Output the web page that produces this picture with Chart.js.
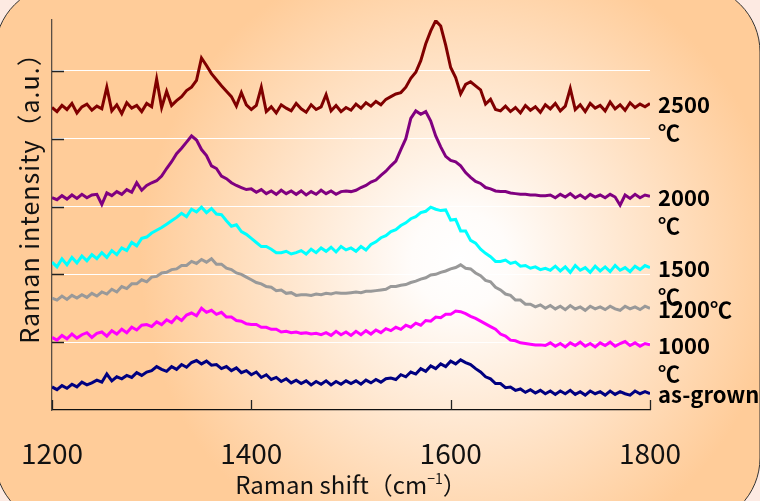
<!DOCTYPE html>
<html>
<head>
<meta charset="utf-8">
<script src="https://cdn.jsdelivr.net/npm/chart.js@4.4.1/dist/chart.umd.min.js"></script>
<style>
  html, body { margin: 0; padding: 0; background: #fdeae2; }
  #wrap { width: 760px; height: 501px; }
</style>
</head>
<body>
<div id="wrap"><canvas id="raman" width="760" height="501"></canvas></div>
<script>
// sampling grid of the spectra (Raman shift, cm-1)
const shiftStart = 1200, shiftStep = 5;
const shiftTicks = [1200, 1400, 1600, 1800];
const intensityTicks = [100, 200, 300, 400, 500];

// intensities (a.u., offset for stacking), one value every 5 cm-1 from 1200 to 1800
const asGrown = [
  34, 30, 36, 32, 38, 34, 41, 37, 40, 44,
  41, 53, 43, 49, 46, 51, 48, 55, 51, 56,
  58, 64, 60, 57, 64, 60, 67, 63, 70, 73,
  68, 72, 66, 67, 61, 64, 58, 62, 55, 58,
  52, 56, 48, 52, 45, 48, 42, 46, 40, 44,
  39, 43, 37, 42, 38, 43, 37, 42, 38, 43,
  39, 43, 38, 44, 40, 45, 41, 46, 47, 45,
  52, 49, 56, 53, 61, 57, 65, 61, 68, 64,
  72, 68, 74, 70, 67, 61, 56, 49, 46, 39,
  39, 33, 34, 29, 31, 26, 30, 25, 29, 24,
  28, 23, 28, 24, 29, 23, 27, 22, 28, 24,
  27, 22, 28, 23, 27, 24, 22, 28, 24, 27,
  24
];
const t1000 = [
  107, 103, 110, 105, 112, 106, 111, 114, 107, 113,
  115, 109, 117, 112, 119, 114, 122, 118, 125, 126,
  123, 130, 126, 133, 129, 137, 132, 140, 143, 139,
  150, 144, 147, 141, 144, 137, 137, 132, 131, 127,
  126, 126, 122, 122, 119, 119, 115, 116, 114, 115,
  113, 114, 112, 113, 111, 114, 110, 116, 111, 115,
  110, 116, 111, 117, 112, 118, 114, 120, 117, 122,
  119, 125, 122, 128, 125, 132, 131, 137, 136, 141,
  141, 146, 145, 142, 138, 135, 131, 127, 123, 119,
  112, 109, 103, 102, 99, 98, 97, 96, 96, 95,
  99, 94, 98, 93, 99, 95, 100, 94, 98, 93,
  99, 95, 100, 94, 98, 101, 95, 99, 94, 98,
  96
];
const t1200 = [
  165, 162, 168, 163, 169, 165, 170, 166, 172, 168,
  174, 171, 178, 174, 182, 179, 186, 186, 192, 189,
  196, 197, 202, 203, 207, 208, 213, 213, 219, 216,
  222, 218, 223, 215, 215, 209, 207, 202, 200, 196,
  192, 188, 186, 182, 181, 176, 177, 172, 173, 169,
  170, 170, 169, 171, 170, 172, 171, 173, 172, 172,
  173, 174, 173, 175, 175, 176, 177, 178, 182, 182,
  184, 185, 188, 190, 193, 195, 199, 200, 203, 205,
  208, 210, 214, 209, 208, 202, 198, 191, 189, 181,
  177, 171, 169, 162, 162, 156, 156, 152, 155, 150,
  154, 149, 153, 148, 154, 149, 152, 147, 153, 149,
  152, 148, 153, 149, 147, 153, 149, 152, 148, 153,
  150
];
const t1500 = [
  218, 211, 223, 214, 225, 217, 227, 220, 229, 223,
  232, 225, 235, 229, 239, 235, 247, 242, 253, 255,
  261, 265, 269, 274, 279, 284, 290, 285, 296, 292,
  299, 291, 297, 289, 288, 279, 271, 273, 263, 259,
  253, 247, 241, 241, 237, 232, 232, 234, 230, 232,
  235, 230, 237, 232, 239, 234, 240, 233, 241, 236,
  239, 234, 241, 236, 244, 248, 254, 257, 263, 266,
  272, 276, 282, 285, 291, 293, 299, 296, 294, 295,
  280, 281, 264, 264, 250, 246, 237, 231, 226, 219,
  219, 221, 216, 218, 212, 213, 209, 211, 207, 209,
  206, 212, 205, 211, 203, 213, 206, 210, 203, 212,
  205, 211, 204, 213, 206, 210, 204, 212, 207, 213,
  210
];
const t2000 = [
  313, 310, 316, 311, 317, 312, 318, 313, 317, 318,
  303, 320, 316, 322, 318, 325, 321, 335, 324, 331,
  335, 338, 345, 356, 366, 378, 386, 395, 404, 398,
  384, 375, 360, 356, 345, 341, 335, 331, 328, 325,
  326, 321, 325, 319, 323, 318, 324, 319, 323, 318,
  323, 317, 322, 318, 324, 319, 323, 318, 322, 323,
  322, 324, 328, 331, 336, 339, 346, 352, 360, 367,
  384, 400, 430, 441, 436, 440, 426, 404, 388, 374,
  368, 366, 360, 350, 343, 337, 334, 328, 326, 323,
  322, 322, 320, 319, 318, 318, 317, 317, 316, 316,
  317, 313, 318, 314, 319, 313, 317, 312, 318, 314,
  317, 313, 318, 314, 302, 317, 312, 318, 313, 317,
  315
];
const t2500 = [
  446, 440, 449, 443, 452, 438, 447, 451, 442, 448,
  444, 476, 441, 450, 437, 453, 445, 449, 440, 452,
  447, 488, 446, 470, 449, 456, 462, 471, 476, 486,
  519, 508, 496, 487, 478, 470, 462, 448, 468, 450,
  443, 449, 476, 440, 447, 438, 450, 445, 441, 452,
  444, 439, 450, 443, 447, 465, 441, 449, 440, 446,
  442, 451, 445, 453, 448, 455, 450, 458, 462, 466,
  468, 476, 489, 498, 515, 540, 559, 574, 566, 538,
  505, 490, 466, 480, 484, 478, 472, 451, 458, 443,
  441, 448, 440, 446, 438, 449, 442, 447, 439, 450,
  444, 452, 441, 448, 474, 443, 450, 440, 452, 445,
  449, 441, 454, 444, 450, 442, 453, 446, 451, 447,
  452
];

const seriesValues = [asGrown, t1000, t1200, t1500, t2000, t2500];
const seriesColors = ['#000080', '#ff00ff', '#999999', '#00ffff', '#800080', '#800000'];
const seriesNames = ['as-grown', '1000℃', '1200℃', '1500℃', '2000℃', '2500℃'];
const endLabels = [['as-grown'], ['1000', '℃'], ['1200℃'], ['1500', '℃'], ['2000', '℃'], ['2500', '℃']];

const FONT = "'Noto Sans CJK JP', 'Noto Sans', sans-serif";
Chart.defaults.font.family = FONT;

// peach background with the rounded frame
const backdrop = {
  id: 'backdrop',
  beforeDraw(chart) {
    const ctx = chart.ctx;
    ctx.save();
    ctx.fillStyle = '#fdeae2';
    ctx.fillRect(0, 0, chart.width, chart.height);
    const g = ctx.createRadialGradient(460, 260, 0, 460, 260, 320);
    g.addColorStop(0, '#ffffff');
    g.addColorStop(0.15, '#fffcfa');
    g.addColorStop(1, '#ffcc99');
    ctx.beginPath();
    ctx.roundRect(-5, -15, 765, 540, 67);
    ctx.fillStyle = g;
    ctx.fill();
    ctx.lineWidth = 1;
    ctx.strokeStyle = '#333';
    ctx.stroke();
    ctx.restore();
  }
};

// short tick marks pointing into the plot
const innerTicks = {
  id: 'innerTicks',
  beforeDatasetsDraw(chart) {
    const { ctx, chartArea: a, scales: { x, y } } = chart;
    ctx.save();
    ctx.strokeStyle = '#222';
    ctx.lineWidth = 1.3;
    ctx.beginPath();
    intensityTicks.forEach(v => {
      const py = Math.round(y.getPixelForValue(v)) + 0.5;
      ctx.moveTo(a.left, py);
      ctx.lineTo(a.left + 12, py);
    });
    shiftTicks.forEach(v => {
      const px = Math.round(x.getPixelForValue(v)) + 0.5;
      ctx.moveTo(px, a.bottom);
      ctx.lineTo(px, a.bottom - 10);
    });
    ctx.stroke();
    ctx.restore();
  }
};

// axis titles and labels at the end of each spectrum
const texts = {
  id: 'texts',
  afterDraw(chart) {
    const { ctx, chartArea: a } = chart;
    ctx.save();
    ctx.fillStyle = '#111';

    // y title
    ctx.save();
    ctx.translate(29, 192);
    ctx.rotate(-Math.PI / 2);
    ctx.font = '25px ' + FONT;
    ctx.letterSpacing = '1px';
    ctx.textAlign = 'center';
    ctx.textBaseline = 'middle';
    ctx.fillText('Raman intensity（a.u.）', 0, 0);
    ctx.restore();

    // x title with superscript
    const main = 'Raman shift（cm', sup = '−1', close = '）';
    ctx.textBaseline = 'alphabetic';
    ctx.textAlign = 'left';
    ctx.font = '24px ' + FONT;
    const w1 = ctx.measureText(main).width, w3 = ctx.measureText(close).width;
    ctx.font = '14px ' + FONT;
    const w2 = ctx.measureText(sup).width;
    let sx = (a.left + a.right) / 2 - (w1 + w2 + w3) / 2;
    const by = 494;
    ctx.font = '24px ' + FONT;
    ctx.fillText(main, sx, by);
    ctx.font = '14px ' + FONT;
    ctx.fillText(sup, sx + w1, by - 10);
    ctx.font = '24px ' + FONT;
    ctx.fillText(close, sx + w1 + w2, by);

    // end labels
    ctx.fillStyle = '#000';
    ctx.font = 'bold 22px ' + FONT;
    ctx.textBaseline = 'middle';
    chart.data.datasets.forEach((ds, i) => {
      const pts = chart.getDatasetMeta(i).data;
      const last = pts[pts.length - 1];
      endLabels[i].forEach((t, k) => ctx.fillText(t, 658, last.y + 1 + k * 28));
    });
    ctx.restore();
  }
};

const datasets = seriesValues.map((vals, i) => ({
  label: seriesNames[i],
  data: vals.map((v, k) => ({ x: shiftStart + k * shiftStep, y: v })),
  borderColor: seriesColors[i],
  borderWidth: 3,
  pointRadius: 0,
  fill: false,
  tension: 0
}));

new Chart(document.getElementById('raman'), {
  type: 'line',
  data: { datasets: datasets },
  options: {
    responsive: false,
    animation: false,
    devicePixelRatio: 1,
    layout: { padding: { left: 0, right: 110, top: 20, bottom: 0 } },
    plugins: {
      legend: { display: false },
      tooltip: { enabled: false }
    },
    scales: {
      x: {
        type: 'linear',
        min: 1200,
        max: 1800,
        afterFit: s => { s.height = 91; s.paddingLeft = 0; s.paddingRight = 0; },
        afterBuildTicks: s => { s.ticks = shiftTicks.map(v => ({ value: v })); },
        ticks: {
          padding: 27,
          color: '#111',
          font: { size: 28 },
          maxRotation: 0,
          callback: v => String(v)
        },
        grid: { drawTicks: false, color: 'rgba(0,0,0,0)' },
        border: { color: '#111', width: 1.3 }
      },
      y: {
        type: 'linear',
        min: 0,
        max: 575,
        afterFit: s => { s.width = 52; },
        afterBuildTicks: s => { s.ticks = [0].concat(intensityTicks).map(v => ({ value: v })); },
        ticks: { display: false },
        grid: {
          drawTicks: false,
          lineWidth: 1,
          color: c => (c.tick && c.tick.value > 0) ? '#ffffff' : 'rgba(0,0,0,0)'
        },
        border: { color: '#5a4e44', width: 1.3 }
      }
    }
  },
  plugins: [backdrop, innerTicks, texts]
});
</script>
</body>
</html>
